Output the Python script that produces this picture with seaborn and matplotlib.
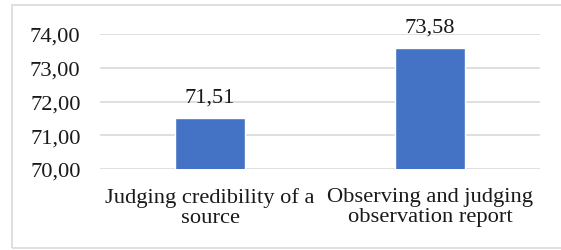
import matplotlib
matplotlib.use("Agg")
import matplotlib.pyplot as plt
import matplotlib.patches as mpatches
import seaborn as sns
import pandas as pd

categories = ["Judging credibility of a\nsource", "Observing and judging\nobservation report"]
values = [71.51, 73.58]
y_ticks = [70, 71, 72, 73, 74]

df = pd.DataFrame({"category": categories, "value": values})

sns.set_style("white")
plt.rcParams['font.family'] = ['Liberation Serif', 'DejaVu Serif']

fig = plt.figure(figsize=(5.61, 2.51), dpi=100)
ax = fig.add_axes([100 / 561, 1 - 170 / 251, 440 / 561, 135 / 251])

sns.barplot(data=df, x="category", y="value", color="#4472C4", saturation=1,
            width=0.314, ax=ax, zorder=3)

ax.set_ylim(70, 74)
ax.set_xlim(-0.5, 1.5)
ax.set_yticks(y_ticks)
ax.set_yticklabels([f"{t:.2f}".replace('.', ',') for t in y_ticks])
ax.yaxis.grid(True, color="#D9D9D9", linewidth=1.2, zorder=0)
ax.set_axisbelow(True)
for s in ax.spines.values():
    s.set_visible(False)
ax.tick_params(axis='y', length=0, pad=14, labelsize=16.2, colors='#1a1a1a')
ax.tick_params(axis='x', length=0, pad=13, labelsize=16.2, colors='#1a1a1a')
ax.set_xlabel("")
ax.set_ylabel("")
for lbl in ax.get_xticklabels():
    lbl.set_linespacing(1.1)

for i, v in enumerate(values):
    ax.text(i, v + 0.33, f"{v:.2f}".replace('.', ','), ha='center', va='bottom',
            fontsize=16.2, color='#1a1a1a', clip_on=False)

# chart frame
fig.patches.append(mpatches.Rectangle((12 / 561, 2 / 251), 1.0, 1 - 8 / 251,
                                      transform=fig.transFigure, fill=False,
                                      edgecolor='#D9D9D9', linewidth=1.2))

fig.savefig("out.png", dpi=100)
